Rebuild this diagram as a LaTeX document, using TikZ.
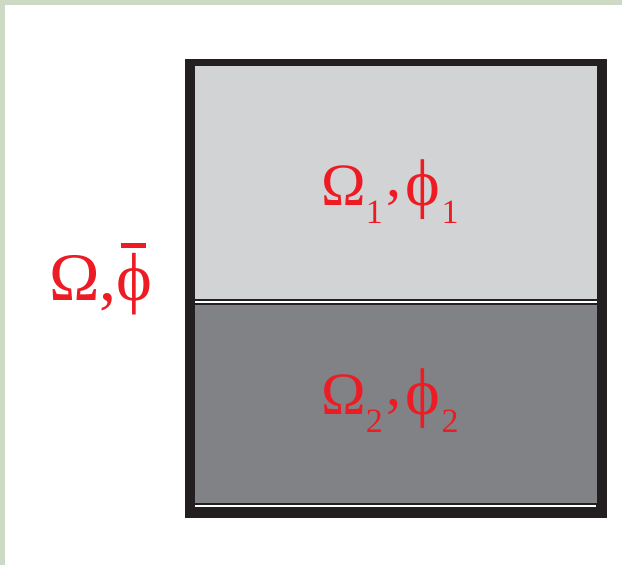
\documentclass[tikz,border=0pt]{standalone}
\usepackage{fontspec}
\setmainfont{Liberation Serif}
\definecolor{frame}{HTML}{CDD9C2}
\definecolor{boxblack}{HTML}{231F20}
\definecolor{lightg}{HTML}{D1D3D4}
\definecolor{darkg}{HTML}{808285}
\definecolor{lab}{HTML}{ED1C24}
\tikzset{
  lbl/.style={text=lab, inner sep=0pt, anchor=base west, font=\fontsize{60}{60}\selectfont},
  bigl/.style={text=lab, inner sep=0pt, anchor=base west, font=\fontsize{68}{68}\selectfont},
}
\newcommand{\sbs}[1]{\raisebox{-18pt}{\fontsize{34}{34}\selectfont #1}}
\newcommand{\rcomma}{\hspace{4pt}\raisebox{9pt}{,}\hspace{4pt}}
\newcommand{\bphi}{{\fontsize{66}{66}\selectfont ϕ}}
\begin{document}
\begin{tikzpicture}[x=1pt,y=-1pt]
\useasboundingbox (0,0) rectangle (622,565);
\fill[white] (0,0) rectangle (622,565);
\fill[frame] (0,0) rectangle (622,5);
\fill[frame] (0,0) rectangle (5,565);
% box
\fill[boxblack] (185,59) rectangle (607,518);
\fill[lightg] (195,66) rectangle (597,299);
\fill[white] (195,301) rectangle (597,302.6);
\fill[darkg] (195,305) rectangle (597,503);
\fill[white] (195,505.3) rectangle (596,507);
% labels
\node[lbl] (top) at (321,205) {Ω\sbs{1}\rcomma\bphi\hspace{1pt}\sbs{1}};
\node[lbl] (bot) at (321,414) {Ω\sbs{2}\rcomma\bphi\hspace{1pt}\sbs{2}};
\node[bigl] (outer) at (49,300) {Ω,ϕ};
\fill[lab] (121,243) rectangle (146,248);
\end{tikzpicture}
\end{document}
